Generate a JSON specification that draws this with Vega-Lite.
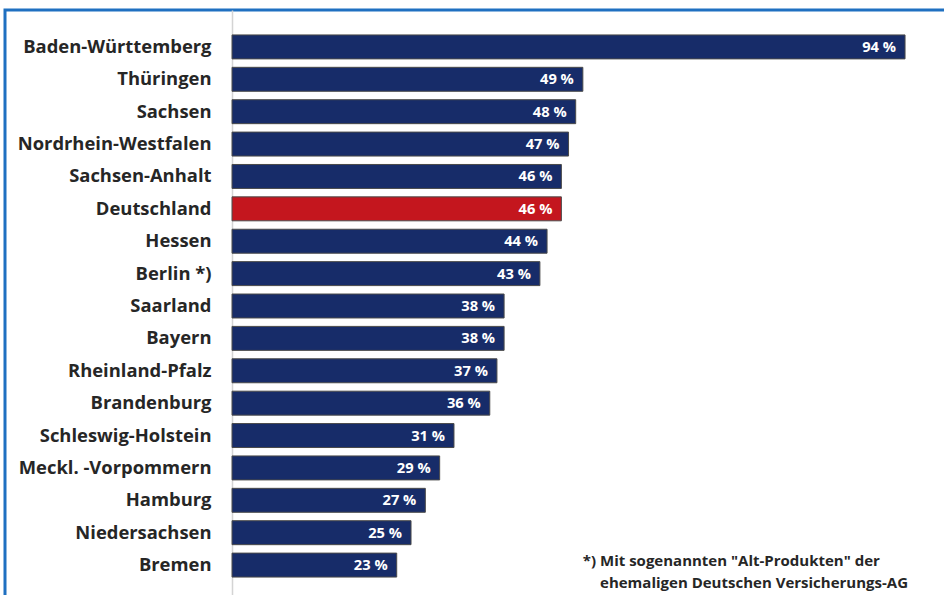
{
  "$schema": "https://vega.github.io/schema/vega-lite/v6.json",
  "autosize": "none",
  "width": 945,
  "height": 592,
  "padding": {"left": 5, "top": 10, "right": 0, "bottom": 0},
  "background": "white",
  "config": {
    "view": {"stroke": "#1f70c1", "strokeWidth": 3},
    "font": "Open Sans"
  },
  "datasets": {
    "rows": [
      {"state": "Baden-Württemberg", "value": 94, "group": "Land"},
      {"state": "Thüringen", "value": 49, "group": "Land"},
      {"state": "Sachsen", "value": 48, "group": "Land"},
      {"state": "Nordrhein-Westfalen", "value": 47, "group": "Land"},
      {"state": "Sachsen-Anhalt", "value": 46, "group": "Land"},
      {"state": "Deutschland", "value": 46, "group": "Bund"},
      {"state": "Hessen", "value": 44, "group": "Land"},
      {"state": "Berlin *)", "value": 43, "group": "Land"},
      {"state": "Saarland", "value": 38, "group": "Land"},
      {"state": "Bayern", "value": 38, "group": "Land"},
      {"state": "Rheinland-Pfalz", "value": 37, "group": "Land"},
      {"state": "Brandenburg", "value": 36, "group": "Land"},
      {"state": "Schleswig-Holstein", "value": 31, "group": "Land"},
      {"state": "Meckl. -Vorpommern", "value": 29, "group": "Land"},
      {"state": "Hamburg", "value": 27, "group": "Land"},
      {"state": "Niedersachsen", "value": 25, "group": "Land"},
      {"state": "Bremen", "value": 23, "group": "Land"}
    ],
    "note1": [{"text": "*) Mit sogenannten \"Alt-Produkten\" der"}],
    "note2": [{"text": "ehemaligen Deutschen Versicherungs-AG"}]
  },
  "layer": [
    {
      "data": {"name": "rows"},
      "mark": {"type": "bar", "stroke": "#4a4a4a", "strokeWidth": 1},
      "encoding": {
        "y": {
          "field": "state", "type": "nominal", "sort": null,
          "scale": {"paddingInner": 0.26, "paddingOuter": 0.77},
          "axis": {
            "orient": "left", "offset": -227, "title": null,
            "domain": true, "domainColor": "#d4d4d4", "domainWidth": 1.5,
            "ticks": false, "labelPadding": 21,
            "labelFont": "Open Sans", "labelFontSize": 18.4, "labelFontWeight": "bold",
            "labelColor": "#262626", "labelLimit": 300
          }
        },
        "x": {
          "field": "value", "type": "quantitative",
          "scale": {"domain": [-31.71, 100.28], "nice": false, "zero": false},
          "axis": null
        },
        "x2": {"datum": 0},
        "color": {
          "field": "group", "type": "nominal",
          "scale": {"domain": ["Land", "Bund"], "range": ["#172c69", "#c4161e"]},
          "legend": null
        }
      }
    },
    {
      "data": {"name": "rows"},
      "transform": [{"calculate": "datum.value + ' %'", "as": "label"}],
      "mark": {"type": "text", "align": "right", "baseline": "middle", "dx": -9, "dy": 1, "color": "white", "font": "Open Sans", "fontSize": 14.7, "fontWeight": "bold"},
      "encoding": {
        "y": {"field": "state", "type": "nominal", "sort": null},
        "x": {"field": "value", "type": "quantitative"},
        "text": {"field": "label"}
      }
    },
    {
      "data": {"name": "note1"},
      "mark": {"type": "text", "align": "left", "baseline": "middle", "dy": -4, "color": "#262626", "font": "Open Sans", "fontSize": 15, "fontWeight": "bold"},
      "encoding": {
        "x": {"datum": 49.0, "type": "quantitative"},
        "y": {"datum": "Bremen", "type": "nominal"},
        "text": {"field": "text"}
      }
    },
    {
      "data": {"name": "note2"},
      "mark": {"type": "text", "align": "left", "baseline": "middle", "dy": 18, "color": "#262626", "font": "Open Sans", "fontSize": 15, "fontWeight": "bold"},
      "encoding": {
        "x": {"datum": 51.4, "type": "quantitative"},
        "y": {"datum": "Bremen", "type": "nominal"},
        "text": {"field": "text"}
      }
    }
  ]
}
